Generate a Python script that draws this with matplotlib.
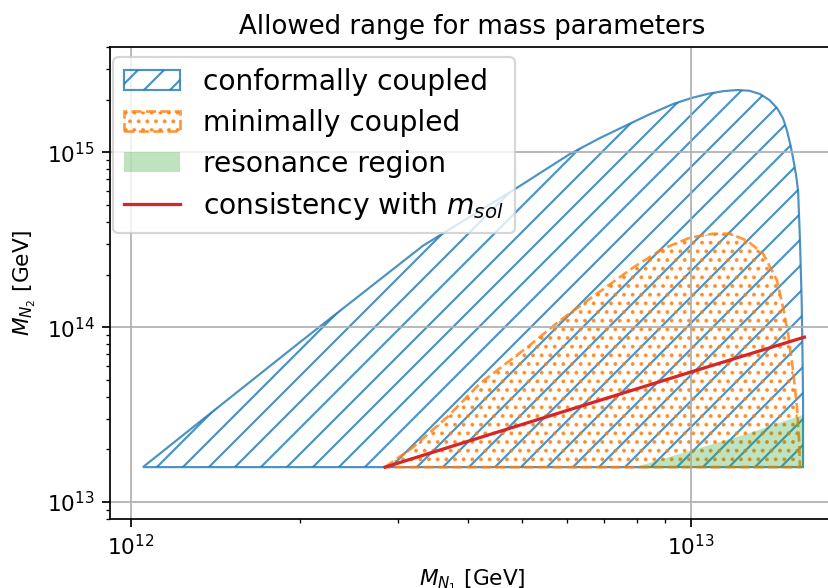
import numpy as np
import matplotlib
matplotlib.use("Agg")
import matplotlib.pyplot as plt
from matplotlib.patches import Patch
from matplotlib.lines import Line2D

# conformally coupled region boundary (M_N1, M_N2) in GeV
conf_m1 = [1.05e12, 1.40e12, 2.00e12, 2.78e12, 3.32e12, 4.03e12, 4.89e12, 6.08e12,
           6.88e12, 7.56e12, 8.40e12, 9.29e12, 1.00e13, 1.068e13, 1.14e13, 1.208e13,
           1.27e13, 1.328e13, 1.38e13, 1.424e13, 1.460e13, 1.484e13, 1.505e13, 1.521e13,
           1.540e13, 1.553e13, 1.565e13, 1.576e13, 1.581e13, 1.585e13, 1.585e13]
conf_m2 = [1.584e13, 3.30e13, 8.18e13, 1.87e14, 2.92e14, 4.28e14, 6.27e14, 9.79e14,
           1.208e15, 1.396e15, 1.640e15, 1.889e15, 2.040e15, 2.154e15, 2.235e15, 2.270e15,
           2.250e15, 2.154e15, 1.990e15, 1.792e15, 1.560e15, 1.325e15, 1.100e15, 9.29e14,
           7.40e14, 6.02e14, 3.12e14, 1.42e14, 7.36e13, 3.82e13, 1.584e13]

# minimally coupled region boundary
min_m1 = [2.842e12, 3.189e12, 3.667e12, 4.201e12, 5.095e12, 5.836e12, 6.795e12, 7.880e12,
          8.913e12, 9.959e12, 1.095e13, 1.174e13, 1.259e13, 1.345e13, 1.424e13, 1.460e13,
          1.490e13, 1.521e13, 1.546e13, 1.559e13, 1.565e13]
min_m2 = [1.584e13, 2.06e13, 3.054e13, 4.774e13, 7.66e13, 1.092e14, 1.557e14, 2.191e14,
          2.812e14, 3.249e14, 3.423e14, 3.423e14, 3.123e14, 2.633e14, 1.847e14, 1.295e14,
          9.21e13, 5.662e13, 3.483e13, 2.258e13, 1.584e13]

# resonance region (upper boundary above M_N2 minimum)
res_m1 = [7.88e12, 9.959e12, 1.259e13, 1.585e13]
res_m2 = [1.584e13, 1.98e13, 2.475e13, 3.177e13]
m2_min = 1.584e13

# consistency with m_sol
sol_m1 = [2.842e12, 5.0e12, 1.0e13, 1.594e13]
sol_m2 = [1.584e13, 2.782e13, 5.545e13, 8.77e13]

DPI = 156
fig = plt.figure(figsize=(828 / DPI, 588 / DPI), dpi=DPI)
ax = fig.add_axes([110 / 828, (588 - 519) / 588, (834 - 110) / 828, (519 - 47) / 588])

ax.fill(conf_m1, conf_m2, facecolor='none', edgecolor='tab:blue', hatch='//',
        linewidth=1.0, alpha=0.8, label='conformally coupled')
ax.fill(min_m1, min_m2, facecolor='none', edgecolor='tab:orange', hatch='...',
        linewidth=1.25, linestyle='--', alpha=0.8, label='minimally coupled')
ax.fill_between(res_m1, [m2_min] * len(res_m1), res_m2, color='tab:green', alpha=0.3,
                linewidth=0, label='resonance region')
ax.plot(sol_m1, sol_m2, color='tab:red', linewidth=1.5, label='consistency with $m_{sol}$')

ax.set_xscale('log')
ax.set_yscale('log')
ax.set_xlim(9.17e11, 1.80e13)
ax.set_ylim(8.0e12, 4.0e15)
ax.grid(True)
ax.set_title('Allowed range for mass parameters', fontsize=12)
ax.set_xlabel('$M_{N_1}$ [GeV]', fontsize=10)
ax.set_ylabel('$M_{N_2}$ [GeV]', fontsize=10)

handles = [
    Patch(facecolor='none', edgecolor='tab:blue', hatch='//', linewidth=1.0, alpha=0.8),
    Patch(facecolor='none', edgecolor='tab:orange', hatch='...', linewidth=1.25,
          linestyle='--', alpha=0.8),
    Patch(facecolor='tab:green', alpha=0.3, linewidth=0),
    Line2D([], [], color='tab:red', linewidth=1.5),
]
labels = ['conformally coupled', 'minimally coupled', 'resonance region',
          'consistency with $m_{sol}$']
ax.legend(handles, labels, loc='upper left', fontsize=13, borderaxespad=0,
          bbox_to_anchor=(0.004, 0.979), labelspacing=0.45)

fig.savefig('out.png', dpi=DPI)
